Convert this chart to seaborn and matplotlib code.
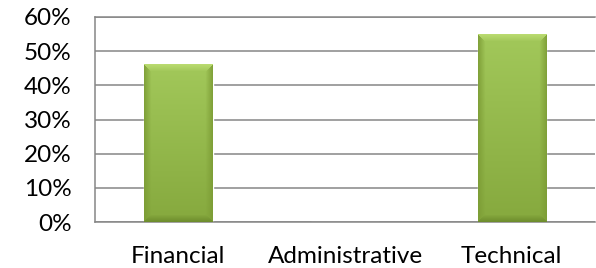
import numpy as np
import pandas as pd
import matplotlib
matplotlib.use('Agg')
import matplotlib.pyplot as plt
import seaborn as sns
from matplotlib.colors import to_rgb
from matplotlib.ticker import PercentFormatter

# data
categories = ['Financial', 'Administrative', 'Technical']
shares = [0.46, 0.0, 0.55]
y_ticks = [0.0, 0.1, 0.2, 0.3, 0.4, 0.5, 0.6]

df = pd.DataFrame({'category': categories, 'share': shares})

sns.set_theme(style='white')
plt.rcParams['font.family'] = ['Lato', 'DejaVu Sans']

GRID = '#868686'

fig = plt.figure(figsize=(5.96, 2.68), dpi=100)
ax = fig.add_axes([0.1594, 0.1716, 0.839, 0.765])

sns.barplot(data=df, x='category', y='share', color='#9bbb59', saturation=1,
            width=0.41, ax=ax, zorder=2)

ax.set_xlim(-0.5, 2.5)
ax.set_ylim(0, 0.6)


def bevel_image(w_px, h_px):
    # green bar with a light bevel on top and darker sides/bottom
    ys, xs = np.mgrid[0:h_px, 0:w_px]
    top = ys.astype(float)
    bottom = h_px - 1 - ys
    left = xs.astype(float)
    right = w_px - 1 - xs
    t = ys / max(h_px - 1, 1)
    c_top = np.array(to_rgb('#a2c85a'))
    c_bot = np.array(to_rgb('#86a93e'))
    img = c_top * (1 - t[..., None]) + c_bot * t[..., None]
    bw = 7
    d = np.stack([top, bottom, left, right])
    nearest = d.argmin(axis=0)
    dist = d.min(axis=0)
    inside = dist < bw
    light = np.array(to_rgb('#bede74'))
    side = np.array(to_rgb('#7c9c35'))
    low = np.array(to_rgb('#6a892b'))
    for k, col in enumerate([light, low, side, side]):
        m = inside & (nearest == k)
        f = (1 - dist[m] / bw)[:, None] * 0.85
        img[m] = img[m] * (1 - f) + col * f
    return img


for patch in ax.patches:
    h = patch.get_height()
    if h <= 0:
        continue
    x0, y0 = patch.get_x(), patch.get_y()
    w = patch.get_width()
    p0 = ax.transData.transform((x0, y0))
    p1 = ax.transData.transform((x0 + w, y0 + h))
    w_px = int(round(abs(p1[0] - p0[0])))
    h_px = int(round(abs(p1[1] - p0[1])))
    img = bevel_image(w_px, h_px)
    ax.imshow(img, extent=(x0, x0 + w, y0, y0 + h), aspect='auto',
              origin='upper', zorder=3, interpolation='bilinear')

ax.set_xlim(-0.5, 2.5)
ax.set_ylim(0, 0.6)
ax.set_yticks(y_ticks)
ax.yaxis.set_major_formatter(PercentFormatter(1.0, decimals=0))

ax.yaxis.grid(True, color=GRID, linewidth=1.1)
ax.set_axisbelow(True)
for s in ['left', 'bottom', 'top']:
    ax.spines[s].set_color(GRID)
    ax.spines[s].set_linewidth(1.1)
ax.spines['right'].set_visible(False)

ax.tick_params(axis='y', length=0, pad=17, labelsize=17.5, labelcolor='black')
ax.tick_params(axis='x', length=0, pad=17, labelsize=17.5, labelcolor='black')
ax.set_xlabel('')
ax.set_ylabel('')

fig.savefig('out.png', dpi=100)
